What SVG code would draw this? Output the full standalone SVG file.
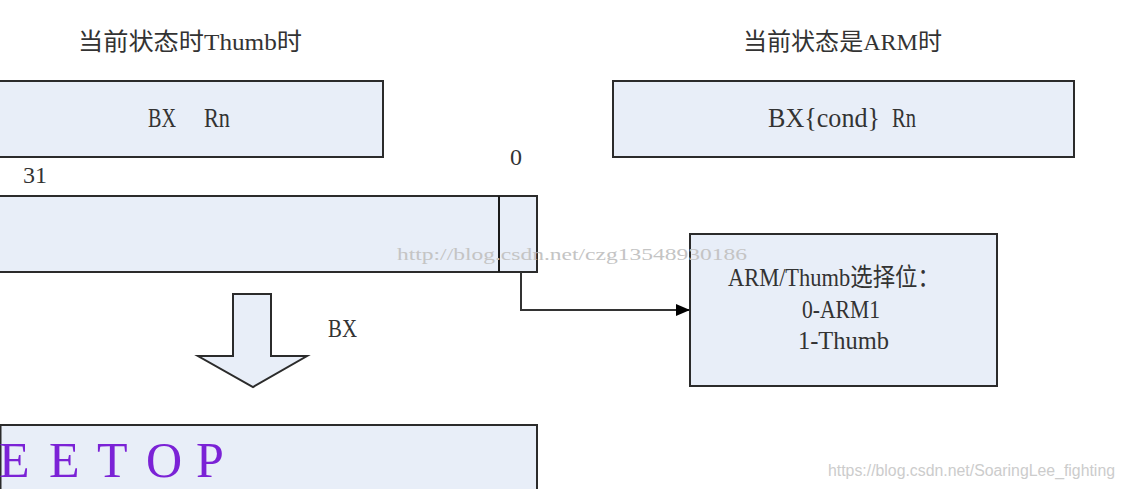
<svg xmlns="http://www.w3.org/2000/svg" width="1125" height="489" viewBox="0 0 1125 489">
  <defs>
    <style>
      .box { fill: #E8EEF8; stroke: #2b2b2b; stroke-width: 2; }
      .t { font-family: "Liberation Serif", "Noto Sans CJK SC", serif; fill: #333333; }
      .wm { font-family: "Liberation Serif", serif; fill: #c4c4c4; font-size: 17px; }
      .wm2 { font-family: "Liberation Sans", Arial, sans-serif; fill: #cccccc; font-size: 16px; }
      .conn { fill: none; stroke: #333333; stroke-width: 2; }
    </style>
    <marker id="arrow" viewBox="0 0 14 12" refX="14" refY="6" markerWidth="14" markerHeight="12" markerUnits="userSpaceOnUse" orient="auto">
      <path d="M0,0 L14,6 L0,12 Z" fill="#000000"/>
    </marker>
  </defs>
  <rect width="1125" height="489" fill="#ffffff"/>

  <g id="title-thumb">
    <text class="t" x="78" y="50" font-size="24" textLength="224" lengthAdjust="spacingAndGlyphs">当前状态时Thumb时</text>
  </g>
  <g id="title-arm">
    <text class="t" x="743" y="50" font-size="24" textLength="199" lengthAdjust="spacingAndGlyphs">当前状态是ARM时</text>
  </g>

  <g id="box-bx-rn">
    <rect class="box" x="-1" y="81" width="384" height="76"/>
    <text class="t" y="127" font-size="27"><tspan x="148" textLength="28" lengthAdjust="spacingAndGlyphs">BX</tspan><tspan x="204" textLength="26" lengthAdjust="spacingAndGlyphs">Rn</tspan></text>
  </g>

  <g id="box-bx-cond-rn">
    <rect class="box" x="613" y="81" width="461" height="76"/>
    <text class="t" y="127" font-size="27"><tspan x="768" textLength="112" lengthAdjust="spacingAndGlyphs">BX{cond}</tspan><tspan x="892" textLength="24" lengthAdjust="spacingAndGlyphs">Rn</tspan></text>
  </g>

  <g id="label-31">
    <text class="t" x="23" y="183" font-size="24">31</text>
  </g>
  <g id="label-0">
    <text class="t" x="510" y="165" font-size="24">0</text>
  </g>

  <g id="register">
    <rect class="box" x="-1" y="196" width="538" height="76"/>
    <line x1="499" y1="196" x2="499" y2="272" stroke="#1a1a1a" stroke-width="2"/>
  </g>

  <g id="select-bit-box">
    <rect class="box" x="690" y="234" width="307" height="152"/>
    <text class="t" x="728" y="286" font-size="25" textLength="212" lengthAdjust="spacingAndGlyphs">ARM/Thumb选择位：</text>
    <text class="t" x="802" y="318" font-size="26" textLength="78" lengthAdjust="spacingAndGlyphs">0-ARM1</text>
    <text class="t" x="798" y="349" font-size="26" textLength="91" lengthAdjust="spacingAndGlyphs">1-Thumb</text>
  </g>

  <g id="block-arrow">
    <polygon class="box" points="233,294 271,294 271,356 307,356 253,387 198,356 233,356" stroke-linejoin="miter"/>
  </g>
  <g id="label-bx">
    <text class="t" x="328" y="337" font-size="26" textLength="29" lengthAdjust="spacingAndGlyphs">BX</text>
  </g>

  <g id="eetop-box">
    <rect class="box" x="0.5" y="425" width="536.5" height="80"/>
    <text x="-1 27 49 77 97 125 146 177 196" y="477" font-family="Liberation Serif, serif" font-size="50" fill="#7B22D6">E E T O P</text>
  </g>

  <g id="connectors">
    <polyline class="conn" points="521,272 521,310 690,310" marker-end="url(#arrow)"/>
  </g>

  <g id="watermarks">
    <text class="wm" x="397" y="260" textLength="350" lengthAdjust="spacingAndGlyphs">http://blog.csdn.net/czg13548930186</text>
    <text class="wm2" x="828" y="476" textLength="287" lengthAdjust="spacingAndGlyphs">https://blog.csdn.net/SoaringLee_fighting</text>
  </g>
</svg>
